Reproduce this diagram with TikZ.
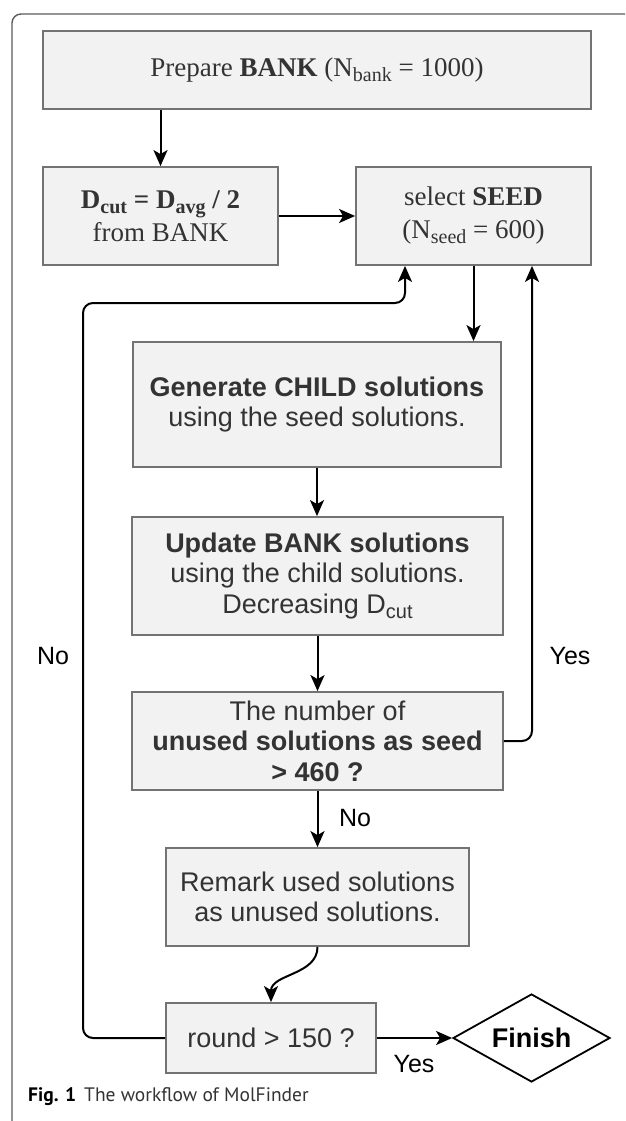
\documentclass[tikz,border=0pt]{standalone}
\usepackage{fontspec}
\setmainfont{Liberation Serif}
\setsansfont{Liberation Sans}
\newfontfamily\capfont{PT Sans}
\usetikzlibrary{shapes.geometric,arrows.meta,positioning}
\definecolor{boxfill}{RGB}{242,242,242}
\definecolor{boxline}{RGB}{115,115,115}
\definecolor{textgray}{RGB}{51,51,51}
\definecolor{framegray}{RGB}{90,90,90}
\newcommand{\lowsub}[1]{\raisebox{-5pt}{\fontsize{20}{20}\selectfont #1}}

\tikzset{
  flowbox/.style={draw=boxline, fill=boxfill, line width=1.8pt, text=textgray, align=center, inner sep=0pt},
  serifbox/.style={flowbox, font={\rmfamily\fontsize{27}{33}\selectfont}},
  sansbox/.style={flowbox, font={\sffamily\fontsize{27}{30.5}\selectfont}},
  flowarrow/.style={line width=2pt, -{Stealth[length=16pt,width=14pt,inset=4pt]}},
  answer/.style={font={\sffamily\fontsize{25}{25}\selectfont}}
}

\begin{document}
\begin{tikzpicture}[x=1pt,y=-1pt]
    \useasboundingbox (0,0) rectangle (625,1121);

    % Frame
    \draw[framegray, line width=1.4pt, rounded corners=9pt] (12,1121) -- (12,14) -- (625,14);

    % Start
    \node[serifbox, minimum width=548pt, minimum height=78pt] (bank) at (317,70)
        {Prepare \textbf{BANK} (N\lowsub{bank} = 1000)};
    \node[serifbox, minimum width=235pt, minimum height=98pt] (dcut) at (160.5,216)
        {\textbf{D\lowsub{cut} = D\lowsub{avg} / 2}\\from BANK};
    \node[serifbox, minimum width=235pt, minimum height=98pt] (seed) at (473.5,216)
        {select \textbf{SEED}\\(N\lowsub{seed} = 600)};

    % Main loop
    \node[sansbox, minimum width=368pt, minimum height=125pt] (gen) at (317,404.5)
        {\textbf{Generate CHILD solutions}\\using the seed solutions.};
    \node[sansbox, minimum width=371pt, minimum height=118pt] (update) at (317.5,576)
        {\textbf{Update BANK solutions}\\using the child solutions.\\Decreasing D\lowsub{cut}};
    \node[sansbox, minimum width=371pt, minimum height=98pt] (number) at (317.5,741)
        {The number of\\\textbf{unused solutions as seed}\\\textbf{> 460 ?}};
    \node[sansbox, minimum width=303pt, minimum height=98pt] (remark) at (317.5,897)
        {Remark used solutions\\as unused solutions.};
    \node[sansbox, minimum width=210pt, minimum height=70pt] (round) at (271,1038)
        {round > 150 ?};
    \node[diamond, draw=black, fill=white, line width=1.8pt, aspect=1.78, inner sep=0pt,
        minimum width=157pt, minimum height=88pt,
        font={\sffamily\bfseries\fontsize{27}{27}\selectfont}] (finish) at (531.5,1038) {Finish};

    % Labels
    \node[answer] (nosign) at (53,656) {No};
    \node[answer] (yessign) at (570,656) {Yes};
    \node[answer] (nonext) at (355,818) {No};
    \node[answer] (yesend) at (414,1064) {Yes};

    % Caption
    \node[anchor=base west, inner sep=0pt, font={\capfont\fontsize{19.5}{19.5}\selectfont}] (caption) at (28,1101)
        {\textbf{Fig. 1}\hspace{8pt}{\color{textgray}The workflow of MolFinder}};

    % Connectors
    \coordinate (loopcorner) at (83,303);
    \draw[flowarrow] (bank.south -| dcut.north) -- (dcut.north);
    \draw[flowarrow] (dcut) -- (seed);
    \draw[flowarrow] (seed.south) -- (seed.south |- gen.north);
    \draw[flowarrow] (gen.south) -- (gen.south |- update.north);
    \draw[flowarrow] (update.south) -- (update.south |- number.north);
    \draw[flowarrow] (number.south) -- (number.south |- remark.north);
    \draw[flowarrow] (remark.south) to[out=-90,in=90] (round.north);
    \draw[flowarrow, rounded corners=10pt] (number.east) -| ([xshift=58.5pt]seed.south);
    \draw[flowarrow, rounded corners=10pt] (round.west) -| (loopcorner) -| ([xshift=-68.5pt]seed.south);
    \draw[flowarrow] (round) -- (finish);
\end{tikzpicture}
\end{document}
